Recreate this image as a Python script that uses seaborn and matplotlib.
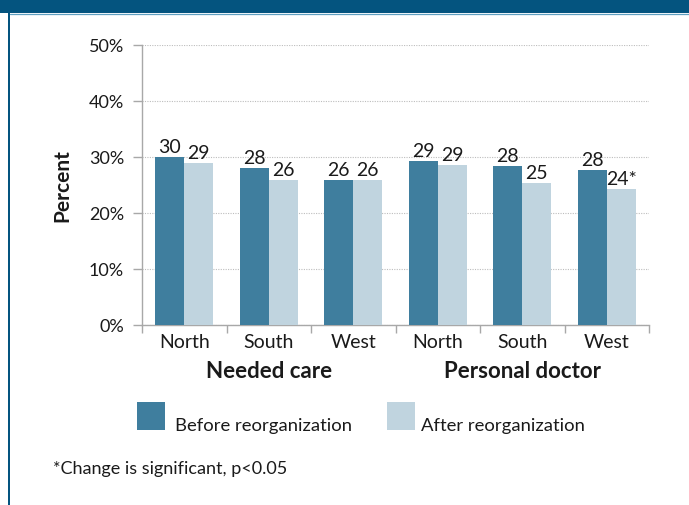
import numpy as np
import pandas as pd
import matplotlib
matplotlib.use("Agg")
import matplotlib.pyplot as plt
import matplotlib.transforms as mtransforms
from matplotlib.patches import Rectangle
from matplotlib.lines import Line2D
import seaborn as sns

# ---- data ----
groups = ["Needed care", "Personal doctor"]
regions = ["North", "South", "West"]
periods = ["Before reorganization", "After reorganization"]
before = [30.0, 28.0, 25.9, 29.2, 28.3, 27.6]
after = [28.9, 25.8, 25.9, 28.6, 25.3, 24.2]
after_significant = [False, False, False, False, False, True]
y_ticks = [0, 10, 20, 30, 40, 50]
footnote = "*Change is significant, p<0.05"

# ---- styling ----
C_BEFORE = "#3f7e9e"
C_AFTER = "#c0d4df"
C_BAND = "#04547f"
C_RULE = "#5f9fc0"
C_AXIS = "#a8a8a8"
C_GRID = "#bdbdbd"
C_TEXT = "#1a1a1a"

sns.set_theme(style="white")
plt.rcParams["font.family"] = ["Lato", "DejaVu Sans"]
plt.rcParams["text.color"] = C_TEXT
plt.rcParams["xtick.color"] = C_AXIS
plt.rcParams["ytick.color"] = C_AXIS
plt.rcParams["xtick.labelcolor"] = C_TEXT
plt.rcParams["ytick.labelcolor"] = C_TEXT

W, H = 689, 506
fig = plt.figure(figsize=(W / 100, H / 100), dpi=100)
fig.patch.set_facecolor("white")


def fx(px):
    return px / W


def fy(py):
    return 1 - py / H


# long-form table: one row per bar
slots = [f"{g}|{r}" for g in groups for r in regions]
rows = []
for i, slot in enumerate(slots):
    rows.append({"slot": slot, "period": periods[0], "value": before[i]})
    rows.append({"slot": slot, "period": periods[1], "value": after[i]})
df = pd.DataFrame(rows)

ax = fig.add_axes([fx(142), fy(326), fx(649) - fx(142), fy(45.7) - fy(326)])
sns.barplot(
    data=df, x="slot", y="value", hue="period",
    order=slots, hue_order=periods,
    palette=[C_BEFORE, C_AFTER], saturation=1,
    width=0.686, errorbar=None, legend=False, ax=ax, zorder=3,
    edgecolor="none", linewidth=0,
)

# value labels above each bar
before_labels = [f"{round(v)}" for v in before]
after_labels = [f"{round(v)}" + ("*" if s else "") for v, s in zip(after, after_significant)]
ax.bar_label(ax.containers[0], labels=before_labels, padding=1.5, fontsize=14, color=C_TEXT)
ax.bar_label(ax.containers[1], labels=after_labels, padding=1.5, fontsize=14, color=C_TEXT)

# axes
ax.set_xlim(-0.5, len(slots) - 0.5)
ax.set_ylim(0, 50)
ax.set_yticks(y_ticks)
ax.set_yticklabels([f"{t}%" for t in y_ticks], fontsize=13)
ax.tick_params(axis="y", length=6.5, width=1, pad=6.5, direction="out", left=True)
ax.yaxis.grid(True, linestyle=(0, (1, 1.2)), color=C_GRID, linewidth=0.8)
ax.set_axisbelow(True)

ax.set_xticks(range(len(slots)))
ax.set_xticklabels(regions * len(groups), fontsize=14)
ax.tick_params(axis="x", which="major", length=0, pad=6)
ax.set_xticks(np.arange(-0.5, len(slots), 1), minor=True)
ax.tick_params(axis="x", which="minor", length=5.5, width=1, color=C_AXIS, direction="out", bottom=True)
ax.set_xlabel("")

ax.set_ylabel("Percent", fontsize=15, fontweight="bold", color=C_TEXT)
ax.yaxis.label.set_va("center")
ax.yaxis.set_label_coords((62 - 142) / 507, 0.5)

for side in ("top", "right"):
    ax.spines[side].set_visible(False)
for side in ("left", "bottom"):
    ax.spines[side].set_color(C_AXIS)
    ax.spines[side].set_linewidth(1)

# group captions under each trio of regions
blend = mtransforms.blended_transform_factory(ax.transData, fig.transFigure)
for gi, g in enumerate(groups):
    ax.text(gi * len(regions) + 1, fy(372), g, transform=blend, ha="center", va="center",
            fontsize=16, fontweight="bold", color=C_TEXT)

# legend
legend_items = [(137, 175, C_BEFORE, periods[0]), (387, 421, C_AFTER, periods[1])]
for sq_x, tx, col, lab in legend_items:
    fig.add_artist(Rectangle((fx(sq_x), fy(431)), fx(28), 28 / H, transform=fig.transFigure,
                             facecolor=col, edgecolor="none"))
    fig.text(fx(tx), fy(431), lab, ha="left", va="baseline", fontsize=13.3, color=C_TEXT)

# footnote
fig.text(fx(53), fy(474), footnote, ha="left", va="baseline", fontsize=13, color=C_TEXT)

# frame: top band and left rule
fig.add_artist(Rectangle((0, fy(14)), 1, 14 / H, transform=fig.transFigure,
                         facecolor=C_BAND, edgecolor="none"))
fig.add_artist(Line2D([fx(10), 1], [fy(14.5), fy(14.5)], transform=fig.transFigure,
                      color=C_RULE, linewidth=0.9))
fig.add_artist(Rectangle((fx(8), 0), fx(2), fy(14), transform=fig.transFigure,
                         facecolor=C_BAND, edgecolor="none"))

fig.savefig("out.png", dpi=100, facecolor="white")
